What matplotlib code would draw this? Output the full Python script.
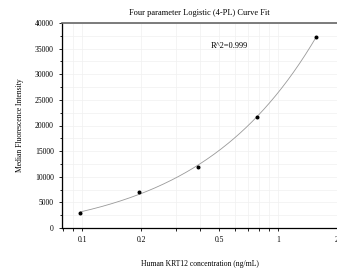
import numpy as np
import matplotlib
matplotlib.use("Agg")
import matplotlib.pyplot as plt
from matplotlib.ticker import FixedLocator, NullFormatter, MultipleLocator

plt.rcParams['font.family'] = ['Liberation Serif', 'DejaVu Serif']

# standards
conc = [0.098, 0.195, 0.39, 0.78, 1.56]
mfi = [3000, 7000, 11900, 21700, 37200]
xticks = [0.1, 0.2, 0.5, 1, 2]
xticklabels = ["0.1", "0.2", "0.5", "1", "2"]

# simple 4PL fit: grid over slope/midpoint, linear solve for asymptotes
x = np.array(conc)
y = np.array(mfi, dtype=float)
best = None
for b in np.linspace(0.5, 3.0, 51):
    for c in np.logspace(-1, 2, 121):
        g = 1.0 / (1.0 + (x / c) ** b)
        M = np.column_stack([g, 1 - g])
        coef, *_ = np.linalg.lstsq(M, y, rcond=None)
        err = np.sum((M @ coef - y) ** 2)
        if best is None or err < best[0]:
            best = (err, b, c, coef)
_, b, c, (a, d) = best
xs = np.logspace(np.log10(0.098), np.log10(1.56), 200)
ys = d + (a - d) / (1 + (xs / c) ** b)

fig = plt.figure(figsize=(3.37, 2.70), dpi=100)
ax = fig.add_axes([62/337, 42/270, 275/337, 205/270])

ax.plot(xs, ys, color='#999999', lw=0.6)
ax.scatter(conc, mfi, s=3.5, color='black', zorder=3)

ax.set_xscale('log')
ax.set_xlim(0.079, 2.0)
ax.set_ylim(0, 40000)
ax.xaxis.set_major_locator(FixedLocator(xticks))
ax.set_xticklabels(xticklabels)
ax.xaxis.set_minor_locator(FixedLocator([0.08, 0.09, 0.3, 0.4, 0.6, 0.7, 0.8, 0.9]))
ax.xaxis.set_minor_formatter(NullFormatter())
ax.yaxis.set_major_locator(MultipleLocator(5000))
ax.yaxis.set_minor_locator(MultipleLocator(2500))

ax.grid(True, which='both', color='#f0f0f0', lw=0.5)
ax.set_axisbelow(True)
ax.tick_params(which='both', labelsize=5.5, length=2.5, width=0.6, direction='out')
ax.tick_params(which='minor', length=1.8)
for s in ['left', 'bottom']:
    ax.spines[s].set_linewidth(0.9)
ax.spines['top'].set_color('#666666')
ax.spines['top'].set_linewidth(1.2)
ax.spines['right'].set_visible(False)

ax.set_title("Four parameter Logistic (4-PL) Curve Fit", fontsize=6, pad=6)
ax.set_xlabel("Human KRT12 concentration (ng/mL)", fontsize=5.5, labelpad=11)
ax.set_ylabel("Median Fluorescence Intensity", fontsize=5.5, labelpad=8)
ax.text(0.61, 0.89, "R^2=0.999", transform=ax.transAxes, fontsize=6, ha='center', va='center')

fig.savefig("out.png", dpi=100)
